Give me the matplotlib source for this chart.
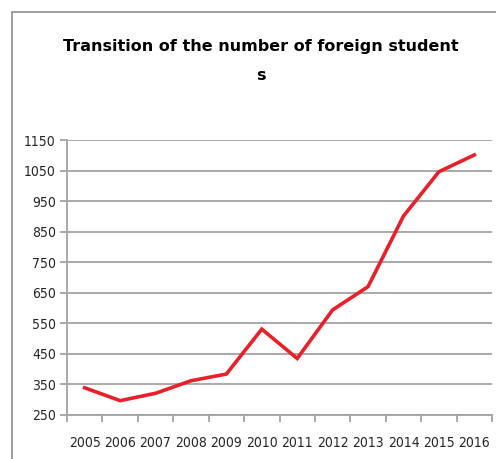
import matplotlib.pyplot as plt
import numpy as np

years = ['2005', '2006', '2007', '2008', '2009', '2010',
         '2011', '2012', '2013', '2014', '2015', '2016']
students = [339, 297, 321, 362, 384, 531, 435, 594, 670, 901, 1046, 1101]
yticks = [250, 350, 450, 550, 650, 750, 850, 950, 1050, 1150]

grid_col = '#a3a3a3'

fig = plt.figure(figsize=(4.96, 4.59), dpi=100)
ax = fig.add_axes([67/496, 44/459, 425/496, 275/459])

# outer chart border (cut off on right and bottom like the reference)
fig.patches.append(plt.Rectangle((12/496, -0.1), 1.2, (459-12)/459 + 0.1,
                                 transform=fig.transFigure, fill=False,
                                 edgecolor='#8c8c8c', linewidth=1.2))

x = np.arange(len(years))
ax.plot(x, students, color='#e8202a', linewidth=2.6, solid_joinstyle='miter')

ax.set_xlim(-0.5, len(years) - 0.5)
ax.set_ylim(250, 1150)
ax.set_yticks(yticks)
ax.yaxis.grid(True, color=grid_col, linewidth=1.3)
ax.set_axisbelow(True)

ax.set_xticks(x)
ax.set_xticklabels(years)
ax.set_xticks(np.arange(len(years) + 1) - 0.5, minor=True)
ax.tick_params(axis='x', which='major', length=0, pad=15)
ax.tick_params(axis='x', which='minor', length=5, color=grid_col, width=1.3)
ax.tick_params(axis='y', length=5, color=grid_col, width=1.3, pad=3)

for side in ['top', 'right']:
    ax.spines[side].set_visible(False)
for side in ['left', 'bottom']:
    ax.spines[side].set_color(grid_col)
    ax.spines[side].set_linewidth(1.3)

for lab in ax.get_xticklabels() + ax.get_yticklabels():
    lab.set_family('DejaVu Sans')
    lab.set_stretch('condensed')
    lab.set_fontsize(10)
    lab.set_color('#262626')

title_font = dict(ha='center', va='center', fontsize=11.5, fontweight='bold',
                  family=['DejaVu Sans'])
fig.text(261/496, 1 - 47/459, 'Transition of the number of foreign student',
         **title_font)
fig.text(261/496, 1 - 75/459, 's', **title_font)

fig.savefig('out.png', dpi=100)
